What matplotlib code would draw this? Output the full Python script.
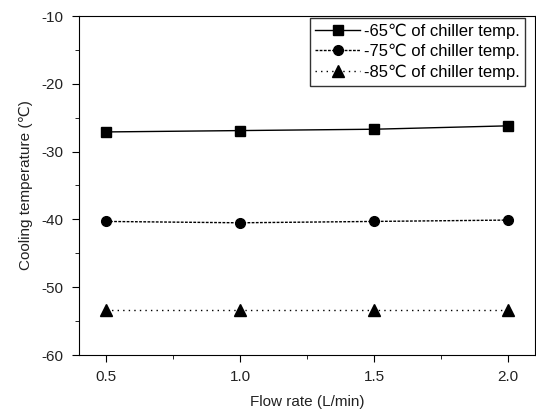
import matplotlib
matplotlib.use("Agg")
import matplotlib.pyplot as plt
from matplotlib.ticker import MultipleLocator

plt.rcParams['font.family'] = ['Liberation Sans', 'DejaVu Sans']
plt.rcParams['axes.unicode_minus'] = False

# flow rate (L/min) and cooling temperature per chiller setting
flow = [0.5, 1.0, 1.5, 2.0]
temp_65 = [-27.1, -26.9, -26.7, -26.2]
temp_75 = [-40.3, -40.5, -40.3, -40.1]
temp_85 = [-53.3, -53.3, -53.3, -53.3]

fig = plt.figure(figsize=(5.36, 4.15), dpi=100)
ax = fig.add_axes([79 / 536, 1 - 355 / 415, (535 - 79) / 536, (355 - 16) / 415])

ax.plot(flow, temp_65, color='black', lw=1.0, ls='-', marker='s', ms=7,
        label='-65℃ of chiller temp.')
ax.plot(flow, temp_75, color='black', lw=1.0, ls=(0, (2, 1)), marker='o', ms=7,
        label='-75℃ of chiller temp.')
ax.plot(flow, temp_85, color='black', lw=1.0, ls=(0, (1, 3)), marker='^', ms=8,
        label='-85℃ of chiller temp.')

ax.set_xlim(0.4, 2.1)
ax.set_ylim(-60, -10)
ax.xaxis.set_major_locator(MultipleLocator(0.5))
ax.xaxis.set_minor_locator(MultipleLocator(0.25))
ax.yaxis.set_major_locator(MultipleLocator(10))
ax.yaxis.set_minor_locator(MultipleLocator(5))
ax.tick_params(which='major', direction='out', length=5, labelsize=11, pad=6,
               labelcolor='#222222')
ax.tick_params(which='minor', direction='out', length=3)
ax.tick_params(top=False, right=False, which='both')
ax.set_xticks([0.5, 1.0, 1.5, 2.0])
ax.set_xticklabels(['0.5', '1.0', '1.5', '2.0'])

ax.set_xlabel('Flow rate (L/min)', fontsize=11, labelpad=8, color='#222222')
ax.set_ylabel('Cooling temperature (℃)', fontsize=11, labelpad=6, color='#222222')

leg = ax.legend(loc='upper right', bbox_to_anchor=((527 - 79) / 456, 1.0),
                fontsize=12, frameon=True, fancybox=False,
                edgecolor='black', borderaxespad=0.1, handlelength=2.7,
                labelspacing=0.3, borderpad=0.35, handletextpad=0.2)
leg.get_frame().set_linewidth(1.0)

fig.savefig('out.png', dpi=100)
